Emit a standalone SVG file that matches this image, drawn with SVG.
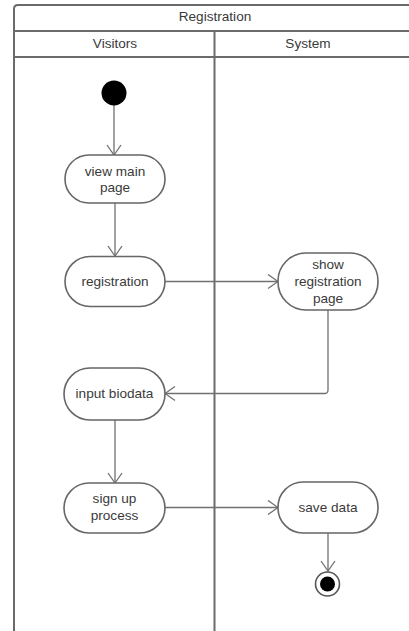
<svg xmlns="http://www.w3.org/2000/svg" width="409" height="631" viewBox="0 0 409 631">
  <style>
    .frame { fill: none; stroke: #6b6b6b; stroke-width: 2; }
    .act { fill: #ffffff; stroke: #666666; stroke-width: 1.6; }
    .edge { fill: none; stroke: #707070; stroke-width: 1.3; }
    .lbl { font-family: "Liberation Sans", Arial, sans-serif; font-size: 13.6px; fill: #3a3a3a; text-anchor: middle; }
  </style>
  <defs>
    <marker id="open" viewBox="0 0 12 16" refX="11" refY="8" markerWidth="12" markerHeight="16" markerUnits="userSpaceOnUse" orient="auto">
      <path d="M1,1 L11,8 L1,15" fill="none" stroke="#707070" stroke-width="1.3"/>
    </marker>
  </defs>
  <rect width="409" height="631" fill="#ffffff"/>

  <!-- swimlane pool -->
  <g id="pool">
    <path class="frame" d="M14,660 L14,9 Q14,5 18,5 L420,5"/>
    <line class="frame" x1="14" y1="31" x2="420" y2="31"/>
    <line class="frame" x1="14" y1="57" x2="420" y2="57"/>
    <line class="frame" x1="214.5" y1="31" x2="214.5" y2="660"/>
    <text class="lbl" x="215" y="21">Registration</text>
    <text class="lbl" x="115" y="48">Visitors</text>
    <text class="lbl" x="308" y="48">System</text>
  </g>

  <!-- connectors -->
  <g id="connectors">
    <line class="edge" x1="114" y1="105" x2="114" y2="155" marker-end="url(#open)"/>
    <line class="edge" x1="115" y1="203" x2="115" y2="256" marker-end="url(#open)"/>
    <line class="edge" x1="165" y1="281.5" x2="278" y2="281.5" marker-end="url(#open)"/>
    <path class="edge" d="M328,310 L328,390 Q328,393.5 324.5,393.5 L165,393.5" marker-end="url(#open)"/>
    <line class="edge" x1="115" y1="420" x2="115" y2="483" marker-end="url(#open)"/>
    <line class="edge" x1="165" y1="507.5" x2="278" y2="507.5" marker-end="url(#open)"/>
    <line class="edge" x1="328" y1="533" x2="328" y2="571" marker-end="url(#open)"/>
  </g>

  <g id="start">
    <circle cx="114" cy="93" r="12.5" fill="#000000"/>
  </g>

  <g id="view-main-page">
    <rect class="act" x="65" y="155" width="100" height="48" rx="24"/>
    <text class="lbl" x="115" y="176">view main</text>
    <text class="lbl" x="115" y="192">page</text>
  </g>

  <g id="registration">
    <rect class="act" x="65" y="256.5" width="100" height="50" rx="25"/>
    <text class="lbl" x="115" y="286">registration</text>
  </g>

  <g id="show-registration-page">
    <rect class="act" x="278" y="253" width="100" height="57" rx="28"/>
    <text class="lbl" x="328" y="269">show</text>
    <text class="lbl" x="328" y="286">registration</text>
    <text class="lbl" x="328" y="303">page</text>
  </g>

  <g id="input-biodata">
    <rect class="act" x="64" y="368" width="101" height="52" rx="26"/>
    <text class="lbl" x="114.5" y="398">input biodata</text>
  </g>

  <g id="sign-up-process">
    <rect class="act" x="64" y="483" width="101" height="50" rx="25"/>
    <text class="lbl" x="114.5" y="503">sign up</text>
    <text class="lbl" x="114.5" y="520">process</text>
  </g>

  <g id="save-data">
    <rect class="act" x="278" y="482" width="100" height="51" rx="25"/>
    <text class="lbl" x="328" y="512">save data</text>
  </g>

  <g id="end">
    <circle cx="327.5" cy="584" r="12" fill="#ffffff" stroke="#555555" stroke-width="1.6"/>
    <circle cx="327.5" cy="584" r="7.5" fill="#000000"/>
  </g>
</svg>
